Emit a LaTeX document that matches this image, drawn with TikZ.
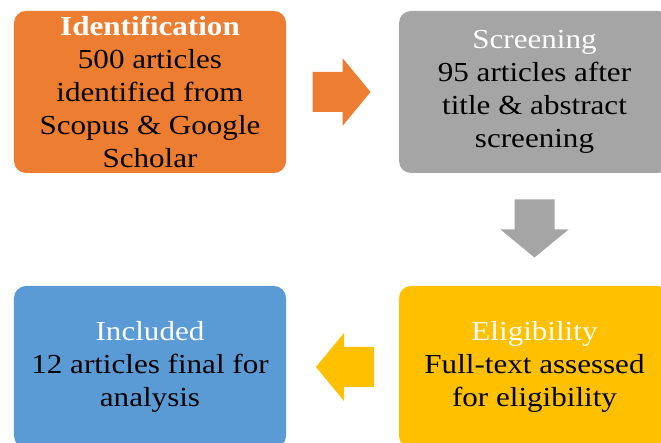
\documentclass[tikz,border=0pt]{standalone}
\usepackage{fontspec}
\setmainfont{Liberation Serif}[FakeStretch=1.13]
\usepackage{tikz}
\usetikzlibrary{calc}
\definecolor{idorange}{HTML}{ED7D31}
\definecolor{scgray}{HTML}{A5A5A5}
\definecolor{elgold}{HTML}{FFC000}
\definecolor{inblue}{HTML}{5B9BD5}
\tikzstyle{stage}=[draw=none, rectangle, rounded corners=12bp, align=center, inner sep=0pt,
  minimum height=162bp, font=\fontsize{27.5bp}{33bp}\selectfont, text=black]
\tikzset{block arrow/.pic={
  \fill (-30,20) -- (0,20) -- (0,34) -- (28,0) -- (0,-34) -- (0,-20) -- (-30,-20) -- cycle;}}

\begin{document}
\begin{tikzpicture}[x=1bp, y=1bp]
		\clip (0,0) rectangle (661,443);
		% First we draw the four stages
		\node[stage, fill=idorange, minimum width=272bp] (ident) at (150,351)
		  {\textcolor{white}{\textbf{Identification}}\\500 articles\\identified from\\Scopus \& Google\\Scholar};
		\node[stage, fill=scgray, minimum width=271bp] (screen) at (534.5,351)
		  {\textcolor{white}{Screening}\\95 articles after\\title \& abstract\\screening};
		\node[stage, fill=elgold, minimum width=271bp] (elig) at (534.5,76)
		  {\textcolor{white}{Eligibility}\\Full-text assessed\\for eligibility};
		\node[stage, fill=inblue, minimum width=272bp] (incl) at (150,76)
		  {\textcolor{white}{Included}\\12 articles final for\\analysis};
		
		% Block arrows between the stages
		\coordinate (m1) at ($(ident.east)!0.5!(screen.west)$);
		\coordinate (m2) at ($(screen.south)!0.5!(elig.north)$);
		\coordinate (m3) at ($(elig.west)!0.5!(incl.east)$);
		\pic[fill=idorange] at (m1) {block arrow};
		\pic[fill=scgray, rotate=-90] at (m2) {block arrow};
		\pic[fill=elgold, rotate=180] at ([xshift=1.5bp]m3) {block arrow};
		\end{tikzpicture}
\end{document}
